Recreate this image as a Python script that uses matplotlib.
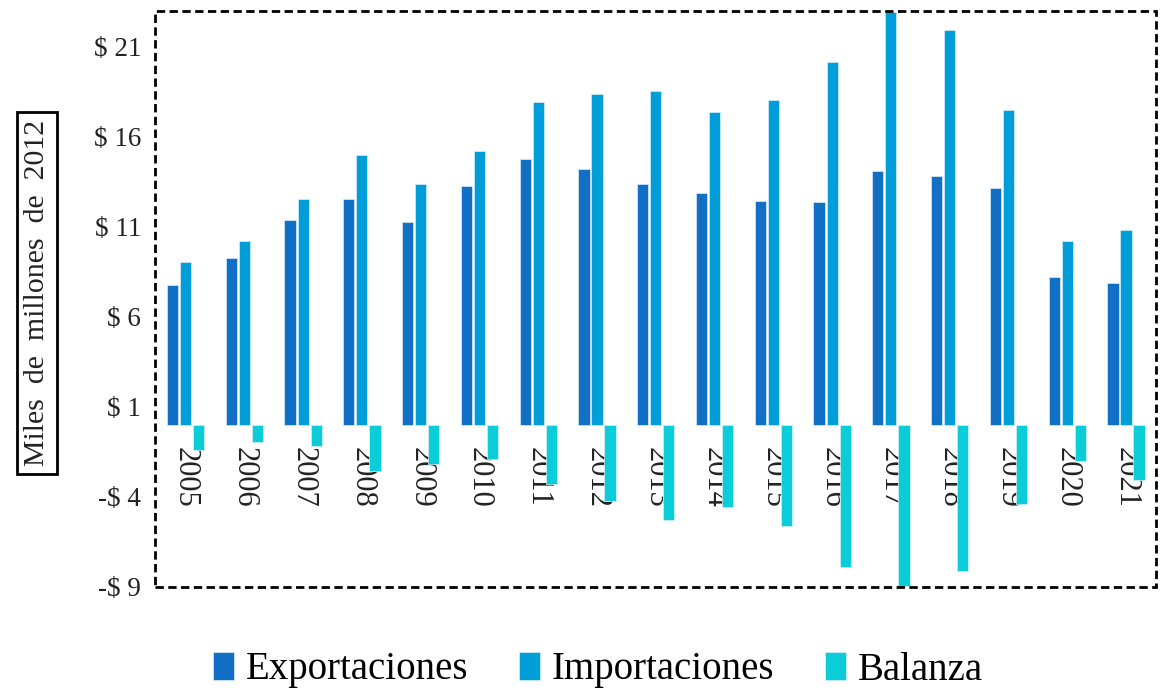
import matplotlib
matplotlib.use("Agg")
import matplotlib.pyplot as plt
import numpy as np
from matplotlib.patches import Rectangle

years = ["2005", "2006", "2007", "2008", "2009", "2010", "2011", "2012", "2013",
         "2014", "2015", "2016", "2017", "2018", "2019", "2020", "2021"]
exportaciones = [7.78, 9.30, 11.39, 12.54, 11.28, 13.30, 14.78, 14.24, 13.41,
                 12.87, 12.44, 12.37, 14.13, 13.81, 13.18, 8.24, 7.91]
importaciones = [9.07, 10.24, 12.54, 14.98, 13.39, 15.20, 17.94, 18.37, 18.57,
                 17.41, 18.04, 20.15, 22.96, 21.94, 17.52, 10.24, 10.85]
balanza = [-1.39, -0.93, -1.15, -2.54, -2.18, -1.91, -3.26, -4.22, -5.28,
           -4.54, -5.59, -7.91, -8.94, -8.11, -4.41, -2.00, -3.06]
yticks = [-9, -4, 1, 6, 11, 16, 21]
ytick_labels = ["-$ 9", "-$ 4", "$ 1", "$ 6", "$ 11", "$ 16", "$ 21"]
series_names = ["Exportaciones", "Importaciones", "Balanza"]
colors = ["#116fc5", "#009ed9", "#0bcdd7"]

plt.rcParams['font.family'] = ['Liberation Serif', 'DejaVu Serif']

fig = plt.figure(figsize=(11.7, 6.96), dpi=100)
ax = fig.add_axes([155/1170, 1-587/696, (1156-155)/1170, (587-11)/696])

for s in ['left', 'right', 'top']:
    ax.spines[s].set_visible(False)
ax.spines['bottom'].set_position(('data', 0))
ax.spines['bottom'].set_visible(False)
ax.set_axisbelow(True)

x = np.arange(len(years))
w = 0.19
off = 0.222
for i, (vals, name, c) in enumerate(zip([exportaciones, importaciones, balanza], series_names, colors)):
    ax.bar(x + (i-1)*off, vals, width=w, color=c, edgecolor='#d8eef8', linewidth=0.5, label=name)

ax.set_xlim(-0.52, 16.51)
ax.set_ylim(-9, 23)
ax.set_yticks(yticks)
ax.set_yticklabels(ytick_labels, fontsize=19.5, color='#222222')
ax.set_xticks(x)
ax.set_xticklabels(years, rotation=270, fontsize=22, color='#222222')
ax.tick_params(axis='both', length=0)
ax.tick_params(axis='x', pad=16)
ax.tick_params(axis='y', pad=10)

border = Rectangle((0, 0), 1, 1, transform=ax.transAxes, fill=False,
                   edgecolor='black', linewidth=2, linestyle=(0, (3, 1.6)), clip_on=False)
ax.add_patch(border)

fig.text(37/1170, 1-293/696, "Miles  de  millones  de  2012", rotation=90,
         fontsize=21.5, ha='center', va='center', color='#222222',
         bbox=dict(boxstyle='square,pad=0.25', facecolor='white', edgecolor='black', linewidth=2))

fig.legend(loc='center', bbox_to_anchor=(0.511, 1-670/696), ncol=3, frameon=False,
           fontsize=28, handlelength=0.55, handleheight=0.75, handletextpad=0.3,
           columnspacing=1.3)

fig.savefig("out.png", dpi=100)
